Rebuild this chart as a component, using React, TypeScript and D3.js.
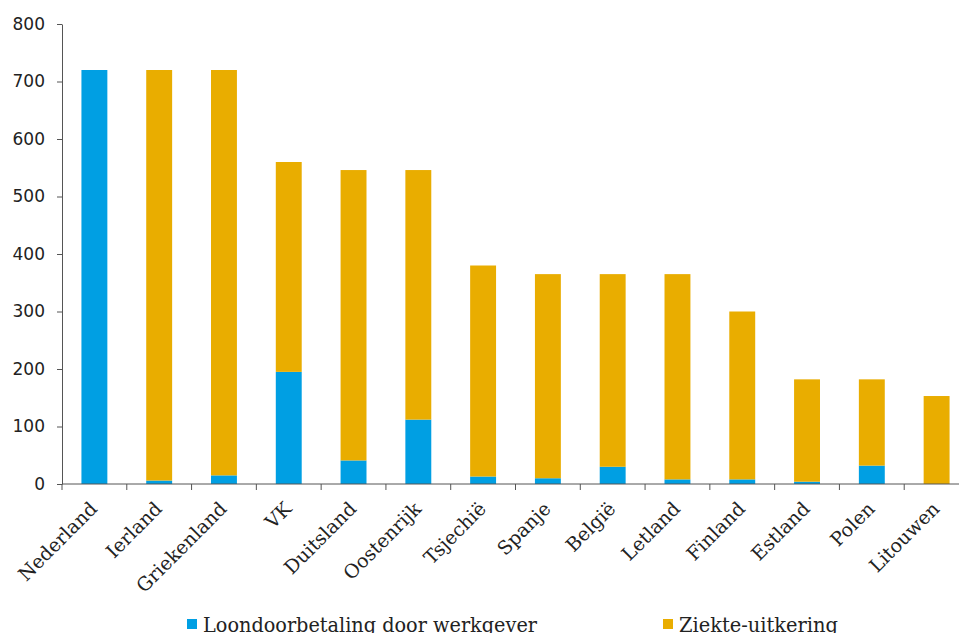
import * as d3 from 'd3';
import React, { useEffect, useRef } from 'react';

const countries = [
  'Nederland', 'Ierland', 'Griekenland', 'VK', 'Duitsland', 'Oostenrijk', 'Tsjechië',
  'Spanje', 'België', 'Letland', 'Finland', 'Estland', 'Polen', 'Litouwen',
];
// werkgever-deel en ziekte-uitkering (totaal = som)
const werkgever = [720, 6, 15, 195, 41, 112, 13, 10, 30, 8, 8, 4, 32, 0];
const uitkering = [0, 714, 705, 365, 505, 434, 367, 355, 335, 357, 292, 178, 150, 153];
const yTicks = [0, 100, 200, 300, 400, 500, 600, 700, 800];
const seriesNames = ['Loondoorbetaling door werkgever', 'Ziekte-uitkering'];
const colors = ['#009fe3', '#e9ad00'];

const App: React.FC = () => {
  const svgRef = useRef<SVGSVGElement | null>(null);

  useEffect(() => {
    const svg = d3.select(svgRef.current);
    const width = 959;
    const height = 633;
    const margin = { top: 24, right: -10, bottom: 149, left: 62 };

    svg.attr('width', width).attr('height', height);
    svg.selectAll('*').remove();

    const rows = countries.map((c, i) => ({ country: c, werkgever: werkgever[i], uitkering: uitkering[i] }));
    const stack = d3.stack<any>().keys(['werkgever', 'uitkering'])(rows);

    const x = d3.scaleBand().domain(countries).range([margin.left, width - margin.right]).paddingInner(0.6).paddingOuter(0.3);
    const y = d3.scaleLinear().domain([0, 800]).range([height - margin.bottom, margin.top]);

    // bars
    svg
      .append('g')
      .selectAll('g')
      .data(stack)
      .join('g')
      .attr('fill', (_, i) => colors[i])
      .selectAll('rect')
      .data((d) => d)
      .join('rect')
      .attr('x', (d) => x(d.data.country)!)
      .attr('width', x.bandwidth())
      .attr('y', (d) => y(d[1]))
      .attr('height', (d) => Math.max(0, y(d[0]) - y(d[1])));

    // y axis
    const yAxis = svg
      .append('g')
      .attr('transform', `translate(${margin.left},0)`)
      .call(d3.axisLeft(y).tickValues(yTicks).tickSize(5).tickPadding(12).tickSizeOuter(0));
    yAxis.select('.domain').attr('stroke', '#555');
    yAxis.selectAll('line').attr('stroke', '#555');
    yAxis
      .selectAll('text')
      .attr('fill', '#222')
      .style('font-family', '"DejaVu Sans", Verdana, sans-serif')
      .style('font-size', '17px');

    // x axis, ticks tussen de categorieen
    const xAxisG = svg.append('g').attr('transform', `translate(0,${y(0)})`);
    xAxisG
      .append('line')
      .attr('x1', margin.left)
      .attr('x2', width)
      .attr('stroke', '#555');
    const step = x.step();
    const bounds = countries.map((c) => x(c)! - (step - x.bandwidth()) / 2);
    xAxisG
      .selectAll('line.tick')
      .data(bounds)
      .join('line')
      .attr('class', 'tick')
      .attr('x1', (d) => d)
      .attr('x2', (d) => d)
      .attr('y1', 0)
      .attr('y2', 6)
      .attr('stroke', '#555');

    xAxisG
      .selectAll('text')
      .data(countries)
      .join('text')
      .attr('transform', (d) => `translate(${x(d)! + x.bandwidth() / 2 + 4},${26}) rotate(-45)`)
      .attr('text-anchor', 'end')
      .attr('fill', '#222')
      .style('font-family', '"DejaVu Serif", serif')
      .style('font-size', '19px')
      .text((d) => d);

    // legend
    const legendX = [187, 663];
    const legendW = [334, 159];
    const legend = svg
      .append('g')
      .selectAll('g')
      .data(seriesNames)
      .join('g')
      .attr('transform', (_, i) => `translate(${legendX[i]},${619})`);
    legend.append('rect').attr('width', 10).attr('height', 10).attr('fill', (_, i) => colors[i]);
    legend
      .append('text')
      .attr('x', 16)
      .attr('y', 13)
      .attr('fill', '#222')
      .attr('textLength', (_, i) => legendW[i])
      .attr('lengthAdjust', 'spacingAndGlyphs')
      .style('font-family', '"DejaVu Serif", serif')
      .style('font-size', '21px')
      .text((d) => d);
  }, []);

  return (
    <div style={{ position: 'absolute', left: 0, top: 0 }}>
      <svg ref={svgRef}></svg>
    </div>
  );
};

export default App;
